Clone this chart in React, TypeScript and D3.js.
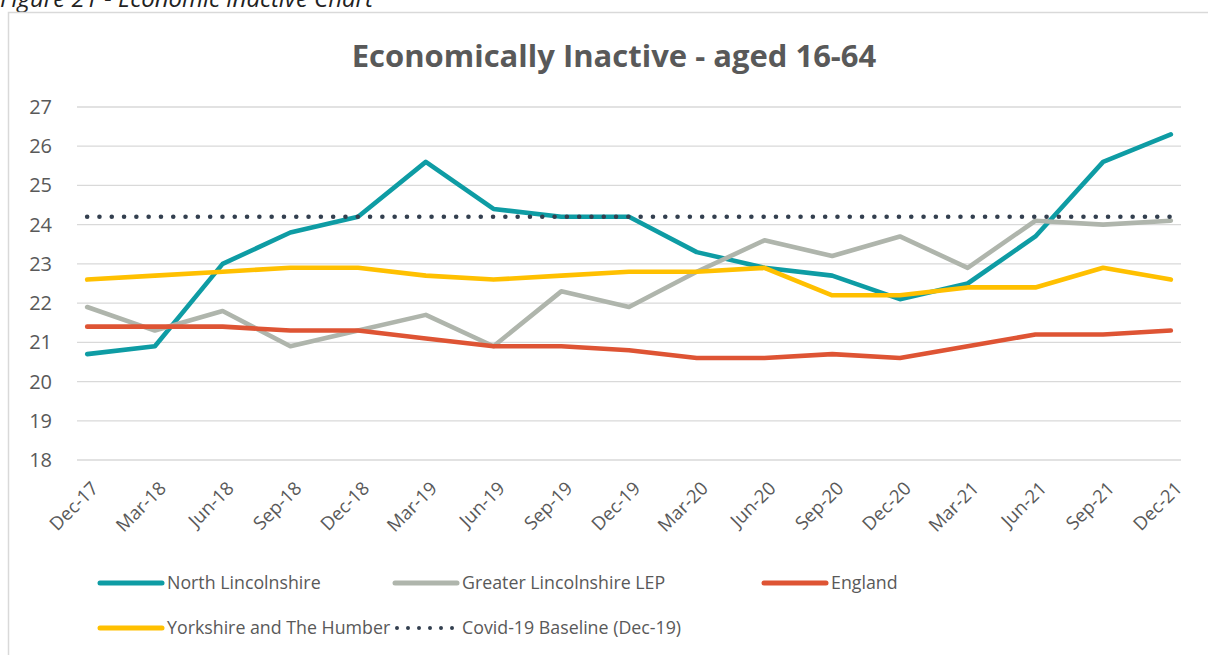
import React from "react";
import * as d3 from "d3";

const categories = ["Dec-17","Mar-18","Jun-18","Sep-18","Dec-18","Mar-19","Jun-19","Sep-19","Dec-19","Mar-20","Jun-20","Sep-20","Dec-20","Mar-21","Jun-21","Sep-21","Dec-21"];
const northLincolnshire = [20.7,20.9,23.0,23.8,24.2,25.6,24.4,24.2,24.2,23.3,22.9,22.7,22.1,22.5,23.7,25.6,26.3];
const greaterLincsLEP = [21.9,21.3,21.8,20.9,21.3,21.7,20.9,22.3,21.9,22.8,23.6,23.2,23.7,22.9,24.1,24.0,24.1];
const england = [21.4,21.4,21.4,21.3,21.3,21.1,20.9,20.9,20.8,20.6,20.6,20.7,20.6,20.9,21.2,21.2,21.3];
const yorkshire = [22.6,22.7,22.8,22.9,22.9,22.7,22.6,22.7,22.8,22.8,22.9,22.2,22.2,22.4,22.4,22.9,22.6];
const baseline = [24.2,24.2,24.2,24.2,24.2,24.2,24.2,24.2,24.2,24.2,24.2,24.2,24.2,24.2,24.2,24.2,24.2];
const yTicks = [18,19,20,21,22,23,24,25,26,27];

const series = [
  { name: "North Lincolnshire", values: northLincolnshire, color: "#0E9CA4", dotted: false },
  { name: "Greater Lincolnshire LEP", values: greaterLincsLEP, color: "#AFB5AC", dotted: false },
  { name: "England", values: england, color: "#DE5434", dotted: false },
  { name: "Yorkshire and The Humber", values: yorkshire, color: "#FFC000", dotted: false },
  { name: "Covid-19 Baseline (Dec-19)", values: baseline, color: "#333F4F", dotted: true },
];

const FONT = "'Open Sans', 'Noto Sans', sans-serif";
const TXT = "#595959";

export default function App() {
  const W = 1208, H = 655;
  const x = d3.scalePoint<string>().domain(categories).range([77, 1181]).padding(0.15);
  const y = d3.scaleLinear().domain([18, 27]).range([460, 107]);
  const line = d3.line<number>().x((_, i) => x(categories[i])!).y(d => y(d));

  const legend = [
    { s: series[0], lx: 100, ly: 583, tx: 167 },
    { s: series[1], lx: 395, ly: 583, tx: 462 },
    { s: series[2], lx: 764, ly: 583, tx: 831 },
    { s: series[3], lx: 100, ly: 628, tx: 167 },
    { s: series[4], lx: 397, ly: 628, tx: 462 },
  ];

  return (
    <svg width={W} height={H} style={{ position: "absolute", left: 0, top: 0, background: "#fff" }} fontFamily={FONT}>
      <text x={0} y={7} fontSize={24} fontStyle="italic" fill="#222">Figure 21 - Economic Inactive Chart</text>
      <rect x={8.5} y={12.5} width={1210} height={660} fill="#fff" stroke="#d9d9d9" strokeWidth={1.5} />
      <text x={614} y={67} textAnchor="middle" fontSize={31} fontWeight="bold" fill={TXT}>Economically Inactive - aged 16-64</text>
      {yTicks.map(t => (
        <g key={t}>
          <line x1={77} x2={1181} y1={y(t)} y2={y(t)} stroke="#d9d9d9" strokeWidth={1.3} />
          <text x={52} y={y(t)} dy="0.35em" textAnchor="end" fontSize={20} fill={TXT}>{t}</text>
        </g>
      ))}
      {categories.map(c => (
        <text key={c} transform={`translate(${x(c)! + 3},${480}) rotate(-45)`} textAnchor="end" dy="0.72em" fontSize={18.5} fill={TXT}>{c}</text>
      ))}
      {series.map(s => (
        <path key={s.name} d={line(s.values) || ""} fill="none" stroke={s.color}
          strokeWidth={4.6} strokeLinejoin="round" strokeLinecap="round"
          strokeDasharray={s.dotted ? "0 12.3" : undefined} />
      ))}
      {legend.map(({ s, lx, ly, tx }) => (
        <g key={s.name}>
          {s.dotted ? (
            <line x1={lx} x2={lx + 56} y1={ly} y2={ly} stroke={s.color} strokeWidth={4} strokeLinecap="round" strokeDasharray="0 11" />
          ) : (
            <line x1={lx} x2={lx + 62} y1={ly} y2={ly} stroke={s.color} strokeWidth={5} strokeLinecap="round" />
          )}
          <text x={tx} y={ly} dy="0.35em" fontSize={17.8} fill={TXT}>{s.name}</text>
        </g>
      ))}
    </svg>
  );
}
